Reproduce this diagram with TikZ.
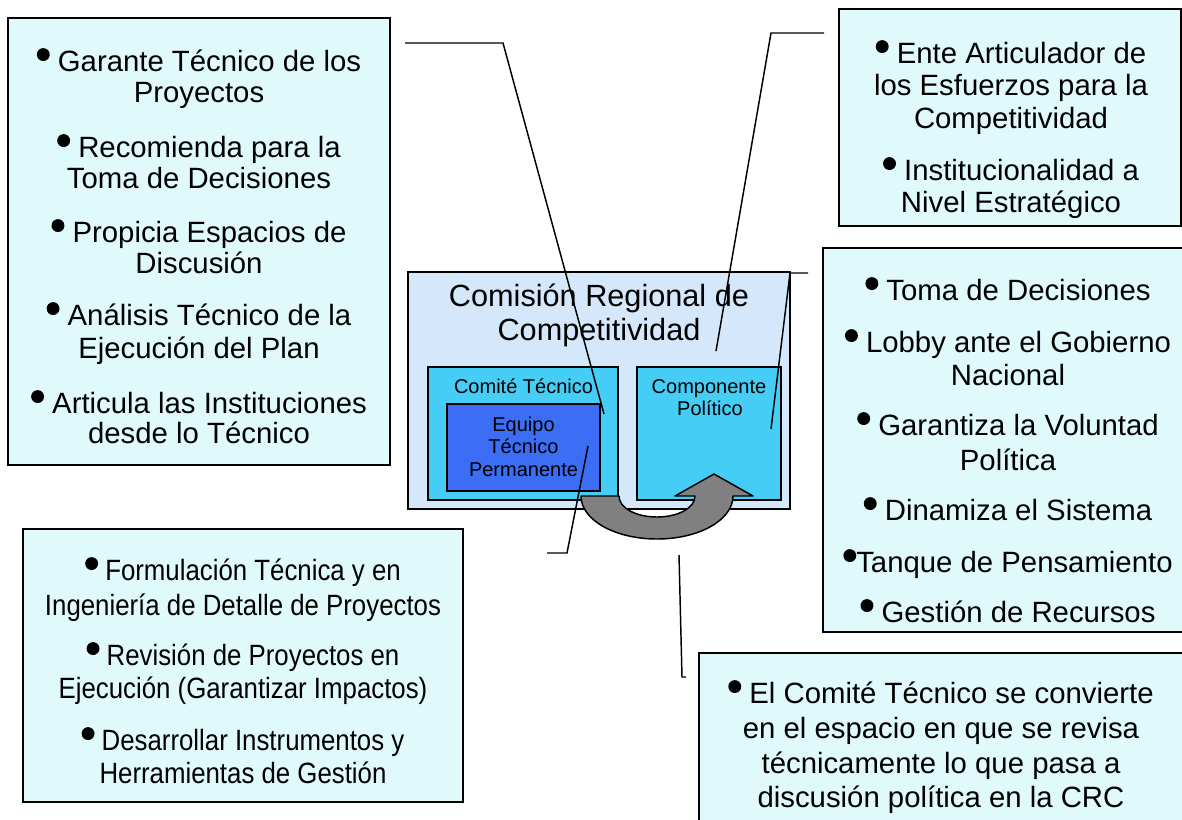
\documentclass[tikz,border=0pt]{standalone}
\usepackage{fontspec}
\setmainfont{Liberation Sans}
\newfontfamily\condfont[FakeStretch=0.88]{Liberation Sans}
\definecolor{boxfill}{HTML}{E0FAFC}
\definecolor{crcfill}{HTML}{D5E7FA}
\definecolor{cyanfill}{HTML}{46CDF5}
\definecolor{bluefill}{HTML}{3C6EF5}
\definecolor{arrowgray}{HTML}{808080}
\newcommand\dotb{\tikz[baseline=0pt]\fill[black] (0.22em,0.56em) circle[radius=0.22em];}
\newcommand\bul{\dotb\ }
\tikzset{
  infobox/.style={draw=black, line width=1.1pt, fill=boxfill},
  crcbox/.style={draw=black, line width=1.1pt, fill=crcfill},
  subbox/.style={draw=black, line width=1.1pt, fill=cyanfill},
  teambox/.style={draw=black, line width=1.1pt, fill=bluefill},
  txt/.style={anchor=base, inner sep=0pt, font=\fontsize{22pt}{26pt}\selectfont},
  ctxt/.style={anchor=base, inner sep=0pt, font=\fontsize{22pt}{26pt}\condfont},
  title/.style={anchor=base, inner sep=0pt, font=\fontsize{23pt}{27pt}\selectfont},
  small/.style={anchor=base, inner sep=0pt, font=\fontsize{15pt}{18pt}\selectfont},
  callout/.style={draw=black, line width=1.1pt},
  uarrow/.style={draw=black, line width=1.1pt, fill=arrowgray, line join=round}
}
\begin{document}
\begin{tikzpicture}[x=0.75pt, y=-0.75pt]
\useasboundingbox (0,0) rectangle (1182,819);
% information boxes
\draw[infobox] (8,18) rectangle (390,465);
\draw[infobox] (839,9) rectangle (1181,226);
\draw[infobox] (823,248) rectangle (1195,632);
\draw[infobox] (23,529) rectangle (463,802);
\draw[infobox] (699,653) rectangle (1195,830);
% central diagram
\draw[crcbox] (408,272) rectangle (790,509);
\draw[subbox] (428,367) rectangle (618,500);
\draw[teambox] (447,404) rectangle (600,491);
\draw[subbox] (637,367) rectangle (781,500);
\node[title] (crc1) at (599,306) {Comisión Regional de};
\node[title] (crc2) at (599,340) {Competitividad};
\node[small] (ct) at (523.5,393) {Comité Técnico};
\node[small] (eq1) at (523.5,431) {Equipo};
\node[small] (eq2) at (523.5,453) {Técnico};
\node[small] (eq3) at (523.5,476) {Permanente};
\node[small] (cp1) at (709,393) {Componente};
\node[small] (cp2) at (710,415) {Político};
% U-turn arrow
\draw[uarrow] (581,496) .. controls (581,520) and (615,539) .. (657,539)
  .. controls (699,539) and (733,520) .. (733,496)
  -- (753,496) -- (714,474) -- (675,496) -- (695,496)
  .. controls (695,508) and (678,517) .. (657,517)
  .. controls (636,517) and (619,508) .. (619,496) -- cycle;
% texts of boxes
\foreach \y/\t [count=\i] in {71/{\bul Garante Técnico de los}, 102/Proyectos,
  157/{\bul Recomienda para la}, 188/Toma de Decisiones,
  242/{\bul Propicia Espacios de}, 273/Discusión,
  325/{\bul Análisis Técnico de la}, 358/Ejecución del Plan,
  413/{\bul Articula las Instituciones}, 443/desde lo Técnico}
  \node[txt] (lt\i) at (199,\y) {\t};
\foreach \y/\t [count=\i] in {63/{\bul Ente Articulador de}, 95/los Esfuerzos para la,
  128/Competitividad, 180/{\bul Institucionalidad a}, 212/Nivel Estratégico}
  \node[txt] (tr\i) at (1011,\y) {\t};
\foreach \y/\t [count=\i] in {300/{\bul Toma de Decisiones}, 352/{\bul Lobby ante el Gobierno},
  385/Nacional, 435/{\bul Garantiza la Voluntad}, 470/Política,
  520/{\bul Dinamiza el Sistema}, 572/{\dotb Tanque de Pensamiento},
  622/{\bul Gestión de Recursos}}
  \node[txt] (rm\i) at (1008,\y) {\t};
\foreach \y/\t [count=\i] in {580/{\bul Formulación Técnica y en}, 615/Ingeniería de Detalle de Proyectos,
  665/{\bul Revisión de Proyectos en}, 698/{Ejecución (Garantizar Impactos)},
  750/{\bul Desarrollar Instrumentos y}, 783/Herramientas de Gestión}
  \node[ctxt] (bl\i) at (243,\y) {\t};
\foreach \y/\t [count=\i] in {703/{\bul El Comité Técnico se convierte}, 738/en el espacio en que se revisa,
  773/técnicamente lo que pasa a, 807/discusión política en la CRC}
  \node[txt] (br\i) at (941,\y) {\t};
% callout lines
\coordinate (a1) at (405,43); \coordinate (a2) at (503,43); \coordinate (a3) at (604,414);
\coordinate (b1) at (824,33); \coordinate (b2) at (771,33); \coordinate (b3) at (716,351);
\coordinate (c1) at (808,273); \coordinate (c2) at (790,273); \coordinate (c3) at (771,429);
\coordinate (d1) at (547,553); \coordinate (d2) at (567,553); \coordinate (d3) at (588,446);
\coordinate (e1) at (686,677); \coordinate (e2) at (682,677); \coordinate (e3) at (679,555);
\draw[callout] (a1) -- (a2) -- (a3);
\draw[callout] (b1) -- (b2) -- (b3);
\draw[callout] (c1) -- (c2) -- (c3);
\draw[callout] (d1) -- (d2) -- (d3);
\draw[callout] (e1) -- (e2) -- (e3);
\end{tikzpicture}
\end{document}
